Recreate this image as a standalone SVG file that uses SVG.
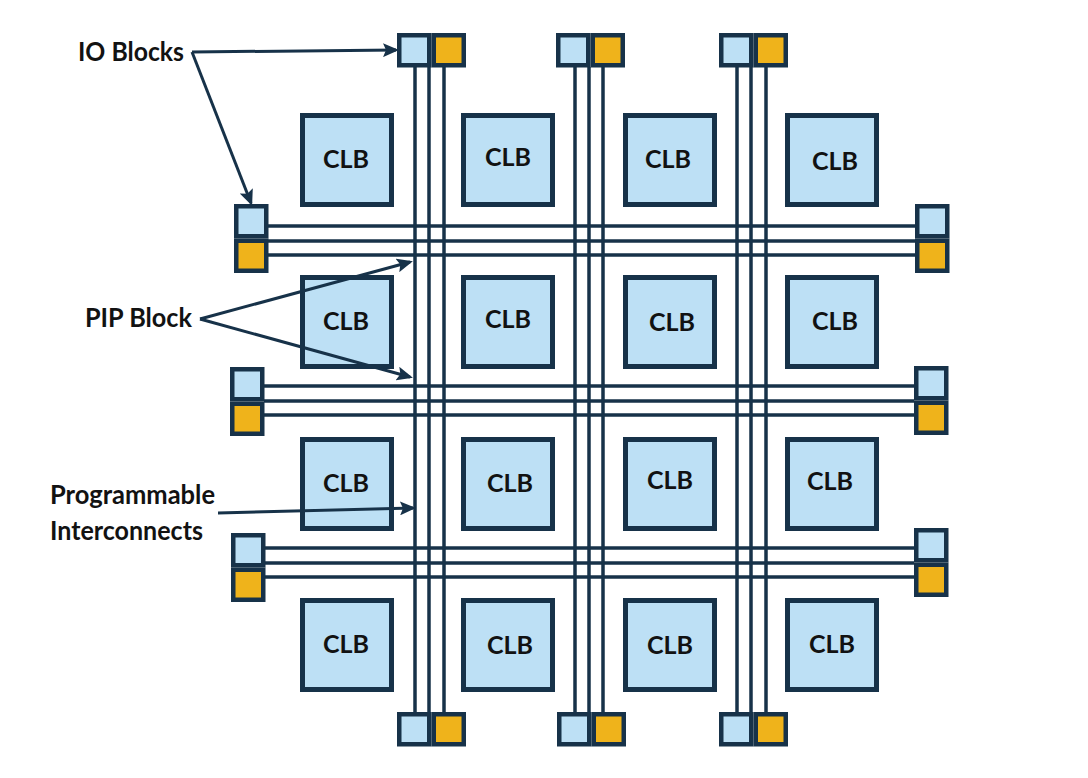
<svg xmlns="http://www.w3.org/2000/svg" width="1088" height="778" viewBox="0 0 1088 778">
<style>
.clb{fill:#bde0f5;stroke:#173249;stroke-width:5}
.lb{fill:#bde0f5;stroke:#173249;stroke-width:4.5}
.yl{fill:#efb31b;stroke:#173249;stroke-width:4.5}
.wire{stroke:#173249;stroke-width:3.5;fill:none}
.arr{stroke:#173249;stroke-width:3;fill:none;marker-end:url(#ah)}
.t{font-family:Lato,"Open Sans","Liberation Sans",sans-serif;font-weight:bold;fill:#121212}
.lab{font-size:26px}
.ct{font-size:25px;text-anchor:middle}
</style>
<defs>
<marker id="ah" markerUnits="userSpaceOnUse" markerWidth="16" markerHeight="14" viewBox="0 0 16 14" refX="13" refY="7" orient="auto">
<path d="M0,0 L16,7 L0,14 L3,7 z" fill="#173249"/>
</marker>
<g id="ioh"><rect class="lb" x="2.25" y="2.25" width="30" height="30"/><rect class="yl" x="36.75" y="2.25" width="30" height="30"/></g>
<g id="iov"><rect class="lb" x="2.25" y="2.25" width="30" height="30"/><rect class="yl" x="2.25" y="36.75" width="30" height="30"/></g>
</defs>
<rect width="1088" height="778" fill="#ffffff"/>

<g id="connectors">
<g id="wires-h">
<line class="wire" x1="268" y1="226" x2="915" y2="226"/>
<line class="wire" x1="268" y1="241" x2="915" y2="241"/>
<line class="wire" x1="268" y1="255" x2="915" y2="255"/>
<line class="wire" x1="264" y1="386" x2="914" y2="386"/>
<line class="wire" x1="264" y1="401" x2="914" y2="401"/>
<line class="wire" x1="264" y1="415" x2="914" y2="415"/>
<line class="wire" x1="265" y1="548" x2="914" y2="548"/>
<line class="wire" x1="265" y1="563" x2="914" y2="563"/>
<line class="wire" x1="265" y1="577" x2="914" y2="577"/>
</g>
<g id="wires-v">
<line class="wire" x1="415" y1="67" x2="415" y2="712"/>
<line class="wire" x1="429" y1="67" x2="429" y2="712"/>
<line class="wire" x1="444" y1="67" x2="444" y2="712"/>
<line class="wire" x1="575" y1="67" x2="575" y2="712"/>
<line class="wire" x1="589" y1="67" x2="589" y2="712"/>
<line class="wire" x1="603" y1="67" x2="603" y2="712"/>
<line class="wire" x1="737" y1="67" x2="737" y2="712"/>
<line class="wire" x1="751" y1="67" x2="751" y2="712"/>
<line class="wire" x1="766" y1="67" x2="766" y2="712"/>
</g>
</g>

<g id="clbs">
<g id="clb-r1c1"><rect class="clb" x="302.5" y="115.5" width="89" height="89"/><text class="t ct" x="346" y="168">CLB</text></g>
<g id="clb-r1c2"><rect class="clb" x="463.5" y="115.5" width="89" height="89"/><text class="t ct" x="508" y="166">CLB</text></g>
<g id="clb-r1c3"><rect class="clb" x="625.5" y="115.5" width="89" height="89"/><text class="t ct" x="668" y="168">CLB</text></g>
<g id="clb-r1c4"><rect class="clb" x="787.5" y="115.5" width="89" height="89"/><text class="t ct" x="835" y="170">CLB</text></g>
<g id="clb-r2c1"><rect class="clb" x="302.5" y="277.5" width="89" height="89"/><text class="t ct" x="346" y="330">CLB</text></g>
<g id="clb-r2c2"><rect class="clb" x="463.5" y="277.5" width="89" height="89"/><text class="t ct" x="508" y="328">CLB</text></g>
<g id="clb-r2c3"><rect class="clb" x="625.5" y="277.5" width="89" height="89"/><text class="t ct" x="672" y="331">CLB</text></g>
<g id="clb-r2c4"><rect class="clb" x="787.5" y="277.5" width="89" height="89"/><text class="t ct" x="835" y="330">CLB</text></g>
<g id="clb-r3c1"><rect class="clb" x="302.5" y="439.5" width="89" height="89"/><text class="t ct" x="346" y="492">CLB</text></g>
<g id="clb-r3c2"><rect class="clb" x="463.5" y="439.5" width="89" height="89"/><text class="t ct" x="510" y="492">CLB</text></g>
<g id="clb-r3c3"><rect class="clb" x="625.5" y="439.5" width="89" height="89"/><text class="t ct" x="670" y="489">CLB</text></g>
<g id="clb-r3c4"><rect class="clb" x="787.5" y="439.5" width="89" height="89"/><text class="t ct" x="830" y="490">CLB</text></g>
<g id="clb-r4c1"><rect class="clb" x="302.5" y="600.5" width="89" height="89"/><text class="t ct" x="346" y="653">CLB</text></g>
<g id="clb-r4c2"><rect class="clb" x="463.5" y="600.5" width="89" height="89"/><text class="t ct" x="510" y="654">CLB</text></g>
<g id="clb-r4c3"><rect class="clb" x="625.5" y="600.5" width="89" height="89"/><text class="t ct" x="670" y="654">CLB</text></g>
<g id="clb-r4c4"><rect class="clb" x="787.5" y="600.5" width="89" height="89"/><text class="t ct" x="832" y="653">CLB</text></g>
</g>

<g id="io-blocks">
<g id="io-top-1"><use href="#ioh" x="397" y="33"/></g>
<g id="io-top-2"><use href="#ioh" x="556" y="33"/></g>
<g id="io-top-3"><use href="#ioh" x="719" y="33"/></g>
<g id="io-bottom-1"><use href="#ioh" x="397" y="712"/></g>
<g id="io-bottom-2"><use href="#ioh" x="557" y="712"/></g>
<g id="io-bottom-3"><use href="#ioh" x="719" y="712"/></g>
<g id="io-left-1"><use href="#iov" x="234" y="204"/></g>
<g id="io-left-2"><use href="#iov" x="230" y="367"/></g>
<g id="io-left-3"><use href="#iov" x="231" y="533"/></g>
<g id="io-right-1"><use href="#iov" x="915" y="204"/></g>
<g id="io-right-2"><use href="#iov" x="914" y="366"/></g>
<g id="io-right-3"><use href="#iov" x="914" y="528"/></g>
</g>

<g id="callouts">
<path class="arr" d="M192,52 L396,50"/>
<path class="arr" d="M192,52 L251,203"/>
<path class="arr" d="M200,319 L410,262"/>
<path class="arr" d="M200,319 L410,377"/>
<path class="arr" d="M218,513 L413,508"/>
</g>

<g id="labels">
<g id="label-io"><text class="t lab" x="78" y="61" textLength="106" lengthAdjust="spacingAndGlyphs">IO Blocks</text></g>
<g id="label-pip"><text class="t lab" x="85" y="327" textLength="107" lengthAdjust="spacingAndGlyphs">PIP Block</text></g>
<g id="label-pi"><text class="t lab" x="50" y="504" textLength="165" lengthAdjust="spacingAndGlyphs">Programmable</text><text class="t lab" x="50" y="540" textLength="153" lengthAdjust="spacingAndGlyphs">Interconnects</text></g>
</g>
</svg>
